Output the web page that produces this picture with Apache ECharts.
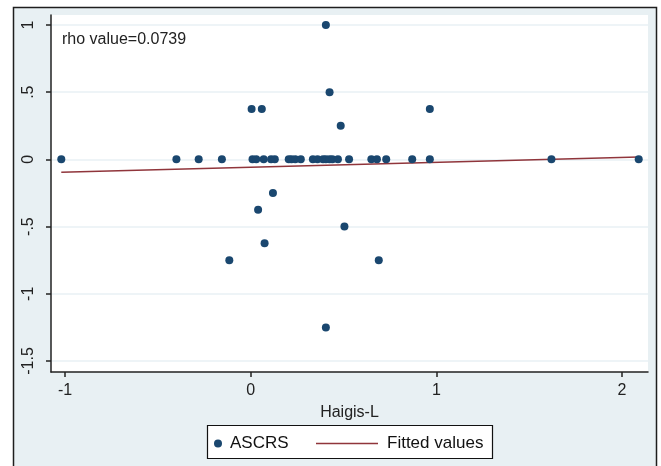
<!DOCTYPE html>
<html>
<head>
<meta charset="utf-8">
<title>ASCRS vs Haigis-L</title>
<script src="https://cdn.jsdelivr.net/npm/echarts@6/dist/echarts.min.js"></script>
<style>
  html, body { margin: 0; padding: 0; background: #fff; }
  #chart { width: 661px; height: 466px; }
</style>
</head>
<body>
<div id="chart"></div>
<script>
// ASCRS prediction error against Haigis-L
var ascrsX = [-1.02, -0.40, -0.28, -0.155, -0.115, 0.005, 0.06, 0.01, 0.03, 0.07,
  0.11, 0.13, 0.04, 0.075, 0.12, 0.205, 0.22, 0.24, 0.27, 0.335,
  0.36, 0.39, 0.405, 0.425, 0.44, 0.47, 0.53, 0.65, 0.68, 0.73,
  0.87, 0.965, 1.62, 2.09, 0.405, 0.425, 0.485, 0.505, 0.405, 0.69, 0.965];
var ascrsY = [0, 0, 0, 0, -0.75, 0.375, 0.375, 0, 0, 0,
  0, 0, -0.375, -0.625, -0.25, 0, 0, 0, 0, 0,
  0, 0, 0, 0, 0, 0, 0, 0, 0, 0,
  0, 0, 0, 0, 1, 0.5, 0.25, -0.5, -1.25, -0.75, 0.375];

// fitted values (linear fit), end points
var fitX = [-1.02, 2.09];
var fitY = [-0.095, 0.017];

var xTicks = [-1, 0, 1, 2];
var yTicks = [-1.5, -1, -0.5, 0, 0.5, 1];
var yTickLabels = ['-1.5', '-1', '-.5', '0', '.5', '1'];

var rhoText = 'rho value=0.0739';

var FONT = '"Liberation Sans", Arial, sans-serif';
var NAVY = '#1a476f';
var MAROON = '#90353b';

var chart = echarts.init(document.getElementById('chart'), null, { renderer: 'canvas' });

chart.setOption({
  animation: false,
  backgroundColor: '#fff',
  textStyle: { fontFamily: FONT },
  grid: {
    left: 51,
    right: 13,
    top: 15,
    bottom: 94,
    show: true,
    backgroundColor: '#fff',
    borderWidth: 0,
    containLabel: false,
    outerBoundsMode: 'none'
  },
  graphic: [
    {
      type: 'rect',
      z: -10,
      silent: true,
      shape: { x: 13.5, y: 7.5, width: 643, height: 470 },
      style: { fill: '#e8f0f3', stroke: '#1e1e1e', lineWidth: 1.5 }
    },
    {
      type: 'rect',
      z: 1,
      silent: true,
      shape: { x: 207.5, y: 425.5, width: 285, height: 33 },
      style: { fill: '#fff', stroke: '#111', lineWidth: 1.2 }
    },
    {
      type: 'text',
      z: 5,
      silent: true,
      x: 62,
      y: 39.5,
      style: {
        text: rhoText,
        fontSize: 16,
        fontFamily: FONT,
        fill: '#222',
        verticalAlign: 'middle'
      }
    }
  ],
  legend: [
    {
      data: [{ name: 'ASCRS', icon: 'circle' }],
      left: 214,
      top: 435,
      padding: 0,
      itemWidth: 8,
      itemHeight: 8,
      textStyle: { fontSize: 17, fontFamily: FONT, color: '#111', padding: [0, 0, 0, 3] }
    },
    {
      data: [{ name: 'Fitted values', icon: 'rect' }],
      left: 316,
      top: 435,
      padding: 0,
      itemWidth: 62,
      itemHeight: 1.5,
      textStyle: { fontSize: 17, fontFamily: FONT, color: '#111', padding: [0, 0, 0, 4] }
    }
  ],
  xAxis: {
    type: 'value',
    min: -1.0754,
    max: 2.14,
    name: 'Haigis-L',
    nameLocation: 'middle',
    nameGap: 33,
    nameTextStyle: { fontSize: 16, fontFamily: FONT, color: '#222' },
    axisLine: { onZero: false, lineStyle: { color: '#222', width: 1.5 } },
    axisTick: { customValues: xTicks, length: 5, lineStyle: { color: '#222', width: 1.5 } },
    axisLabel: {
      customValues: xTicks,
      margin: 11,
      fontSize: 16,
      fontFamily: FONT,
      color: '#222'
    },
    splitLine: { show: false }
  },
  yAxis: {
    type: 'value',
    min: -1.582,
    max: 1.074,
    axisLine: { onZero: false, lineStyle: { color: '#222', width: 1.5 } },
    axisTick: { customValues: yTicks, length: 5, lineStyle: { color: '#222', width: 1.5 } },
    axisLabel: {
      customValues: yTicks,
      rotate: 90,
      margin: 14,
      fontSize: 16,
      fontFamily: FONT,
      color: '#222',
      formatter: function (v) {
        var i = yTicks.indexOf(v);
        return i >= 0 ? yTickLabels[i] : '';
      }
    },
    splitLine: { show: true, lineStyle: { color: '#e9f1f4', width: 1.5 } }
  },
  series: [
    {
      name: 'ASCRS',
      type: 'scatter',
      symbol: 'circle',
      symbolSize: 8,
      itemStyle: { color: NAVY, opacity: 1 },
      z: 3,
      data: ascrsX.map(function (x, i) { return [x, ascrsY[i]]; })
    },
    {
      name: 'Fitted values',
      type: 'line',
      symbol: 'none',
      showSymbol: false,
      lineStyle: { color: MAROON, width: 1.5 },
      itemStyle: { color: MAROON },
      z: 2,
      data: fitX.map(function (x, i) { return [x, fitY[i]]; })
    }
  ]
});
</script>
</body>
</html>
